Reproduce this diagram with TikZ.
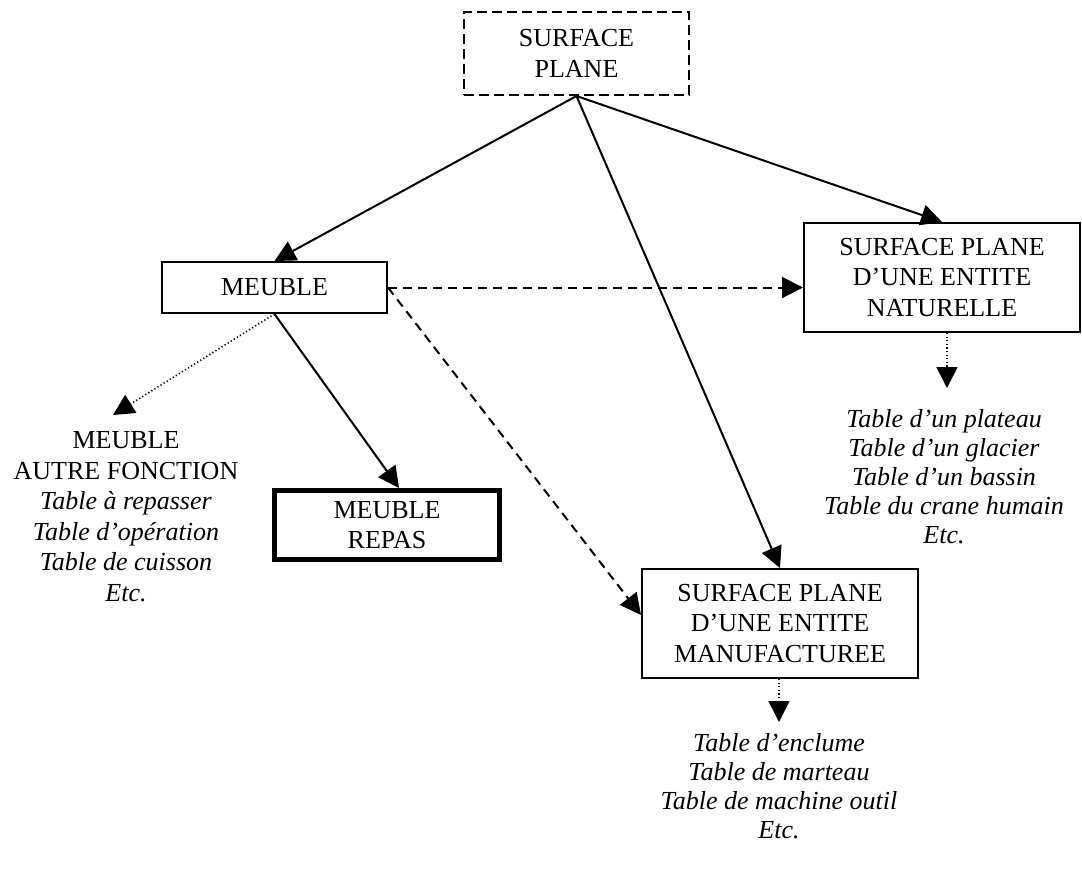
\documentclass[tikz,border=0pt]{standalone}
\usepackage{fontspec}
\setmainfont{Liberation Serif}
\usetikzlibrary{arrows.meta,calc}
\begin{document}
\begin{tikzpicture}[x=1pt,y=-1pt,
  every node/.style={font=\fontsize{26}{30.5}\selectfont, align=center, inner sep=0pt},
  boxed/.style={draw, line width=2pt},
  topbox/.style={draw, line width=2pt, dash pattern=on 10pt off 5pt},
  thickbox/.style={draw, line width=5pt},
  listtxt/.style={font=\fontsize{26}{29}\selectfont\itshape},
  tip/.style={-{Triangle[length=21pt,width=21pt]}},
  solidarr/.style={tip, line width=2pt},
  dasharr/.style={tip, line width=2pt, dash pattern=on 9pt off 6pt},
  dotarr/.style={tip, line width=1.6pt, dash pattern=on 1.2pt off 2.4pt}]
\useasboundingbox (0,0) rectangle (1082,879);
\node[topbox, minimum width=225pt, minimum height=83pt] (top) at (576.5,53.5) {SURFACE\\PLANE};
\node[boxed, minimum width=225pt, minimum height=51pt] (meuble) at (274.5,287.5) {MEUBLE};
\node[boxed, minimum width=276pt, minimum height=109pt] (nat) at (942,277.5) {SURFACE PLANE\\D’UNE ENTITE\\NATURELLE};
\node[thickbox, minimum width=225pt, minimum height=69pt] (repas) at (387,525) {MEUBLE\\REPAS};
\node[boxed, minimum width=276pt, minimum height=109pt] (manuf) at (780,623.5) {SURFACE PLANE\\D’UNE ENTITE\\MANUFACTUREE};
\node (autre) at (126,516.5) {MEUBLE\\AUTRE FONCTION\\\textit{Table à repasser}\\\textit{Table d’opération}\\\textit{Table de cuisson}\\\textit{Etc.}};
\node[listtxt] (natlist) at (944,476.5) {Table d’un plateau\\Table d’un glacier\\Table d’un bassin\\Table du crane humain\\Etc.};
\node[listtxt] (manuflist) at (779,786.5) {Table d’enclume\\Table de marteau\\Table de machine outil\\Etc.};
\coordinate (autretip) at (113,415);
\coordinate (nattip) at (947,388);
\coordinate (manuftip) at (779,722);
\draw[solidarr] (top.south) -- (meuble.north);
\draw[solidarr] (top.south) -- (nat.north);
\draw[solidarr] (top.south) -- (manuf.north);
\draw[dasharr] (meuble.east) -- (meuble.east -| nat.west);
\draw[dasharr] (meuble.east) -- ([yshift=8.5pt]manuf.west);
\draw[dotarr] (meuble.south) -- (autretip);
\draw[solidarr] (meuble.south) -- ([xshift=12pt]repas.north);
\draw[dotarr] (nattip |- nat.south) -- (nattip);
\draw[dotarr] (manuftip |- manuf.south) -- (manuftip);
\end{tikzpicture}
\end{document}
